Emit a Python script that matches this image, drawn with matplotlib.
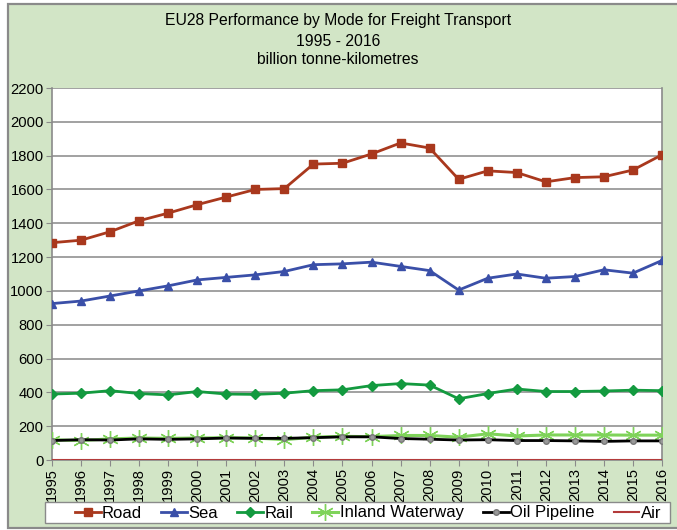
import matplotlib
matplotlib.use("Agg")
import matplotlib.pyplot as plt
from matplotlib.patches import Rectangle

plt.rcParams['font.family'] = ['Liberation Sans', 'DejaVu Sans']

years = list(range(1995, 2017))
road = [1285, 1300, 1350, 1415, 1460, 1510, 1555, 1600, 1605, 1750, 1755,
        1810, 1875, 1845, 1660, 1710, 1700, 1645, 1670, 1675, 1715, 1805]
sea = [925, 940, 970, 1000, 1030, 1065, 1080, 1095, 1115, 1155, 1160,
       1170, 1145, 1120, 1005, 1075, 1100, 1075, 1085, 1125, 1105, 1180]
rail = [390, 395, 410, 393, 385, 405, 390, 388, 395, 410, 415,
        440, 452, 443, 362, 393, 420, 405, 405, 408, 413, 410]
inland = [120, 115, 125, 130, 128, 130, 132, 130, 120, 135, 140,
          138, 145, 145, 135, 155, 142, 148, 148, 148, 147, 147]
oil = [115, 120, 118, 125, 122, 125, 130, 128, 128, 132, 137,
       137, 127, 123, 118, 120, 115, 115, 113, 110, 113, 113]
air = [2, 2, 2, 2, 2, 2, 2, 2, 2, 2, 2,
       2, 2, 2, 2, 2, 2, 2, 2, 2, 2, 2]
yticks = list(range(0, 2201, 200))
title_lines = ["EU28 Performance by Mode for Freight Transport", "1995 - 2016", "billion tonne-kilometres"]

W, H = 677, 530
fig = plt.figure(figsize=(W / 100, H / 100), dpi=100)
bg = '#d2e5c6'
fig.patch.set_facecolor('white')


def fx(px):
    return px / W


def fy(py):
    return 1 - py / H


# green chart area with grey border
fig.patches.append(Rectangle((fx(8), fy(528)), fx(677 + 5) - fx(8), fy(4) - fy(528),
                             transform=fig.transFigure, facecolor=bg,
                             edgecolor='#8a8a8a', linewidth=1.6, zorder=-10))
# legend box
fig.patches.append(Rectangle((fx(45), fy(523)), fx(670) - fx(45), fy(502) - fy(523),
                             transform=fig.transFigure, facecolor='white',
                             edgecolor='#8a8a8a', linewidth=1.0, zorder=1))

ax = fig.add_axes([fx(52), fy(460), fx(662) - fx(52), fy(88) - fy(460)])
ax.set_zorder(0)
ax.set_facecolor('white')

ax.plot(years, road, color='#a9381d', marker='s', markersize=5.5, linewidth=2, label='Road', zorder=5)
ax.plot(years, sea, color='#3a4fa8', marker='^', markersize=6, linewidth=2, label='Sea', zorder=5)
ax.plot(years, rail, color='#139a3f', marker='D', markersize=5, linewidth=2, label='Rail', zorder=5)
ax.plot(years, inland, color='#7fd35a', marker=(6, 2, 0), markersize=12, markeredgewidth=1.0,
        linewidth=2.2, label='Inland Waterway', zorder=4)
ax.plot(years, oil, color='black', marker='o', markersize=4, markerfacecolor='#999999',
        markeredgecolor='#777777', linewidth=2, label='Oil Pipeline', zorder=5)
ax.plot(years, air, color='#b33a3a', linewidth=1.5, label='Air', zorder=5)

ax.set_xlim(1995, 2016)
ax.set_ylim(0, 2200)
ax.set_xticks(years)
ax.set_xticklabels([str(y) for y in years], rotation=90, fontsize=10.6)
ax.set_yticks(yticks)
ax.set_yticklabels([str(v) for v in yticks], fontsize=10.6)
ax.yaxis.grid(True, color='#9a9a9a', linewidth=1.3)
ax.set_axisbelow(True)
ax.spines['top'].set_visible(False)
for s in ['left', 'right', 'bottom']:
    ax.spines[s].set_color('#8a8a8a')
    ax.spines[s].set_linewidth(1.2)
ax.tick_params(axis='both', length=4, color='#8a8a8a', pad=2)

ys = [21, 41, 59]
for t, y in zip(title_lines, ys):
    fig.text(fx(338), fy(y), t, ha='center', va='center', fontsize=11.3)

leg = fig.legend(loc='center', bbox_to_anchor=(fx(368), fy(513)), ncol=6, fontsize=12,
                 frameon=False, handlelength=1.55,
                 handletextpad=0.08, columnspacing=1.15, borderpad=0.0)
leg.set_zorder(3)

fig.savefig('out.png', dpi=100, facecolor='white')
